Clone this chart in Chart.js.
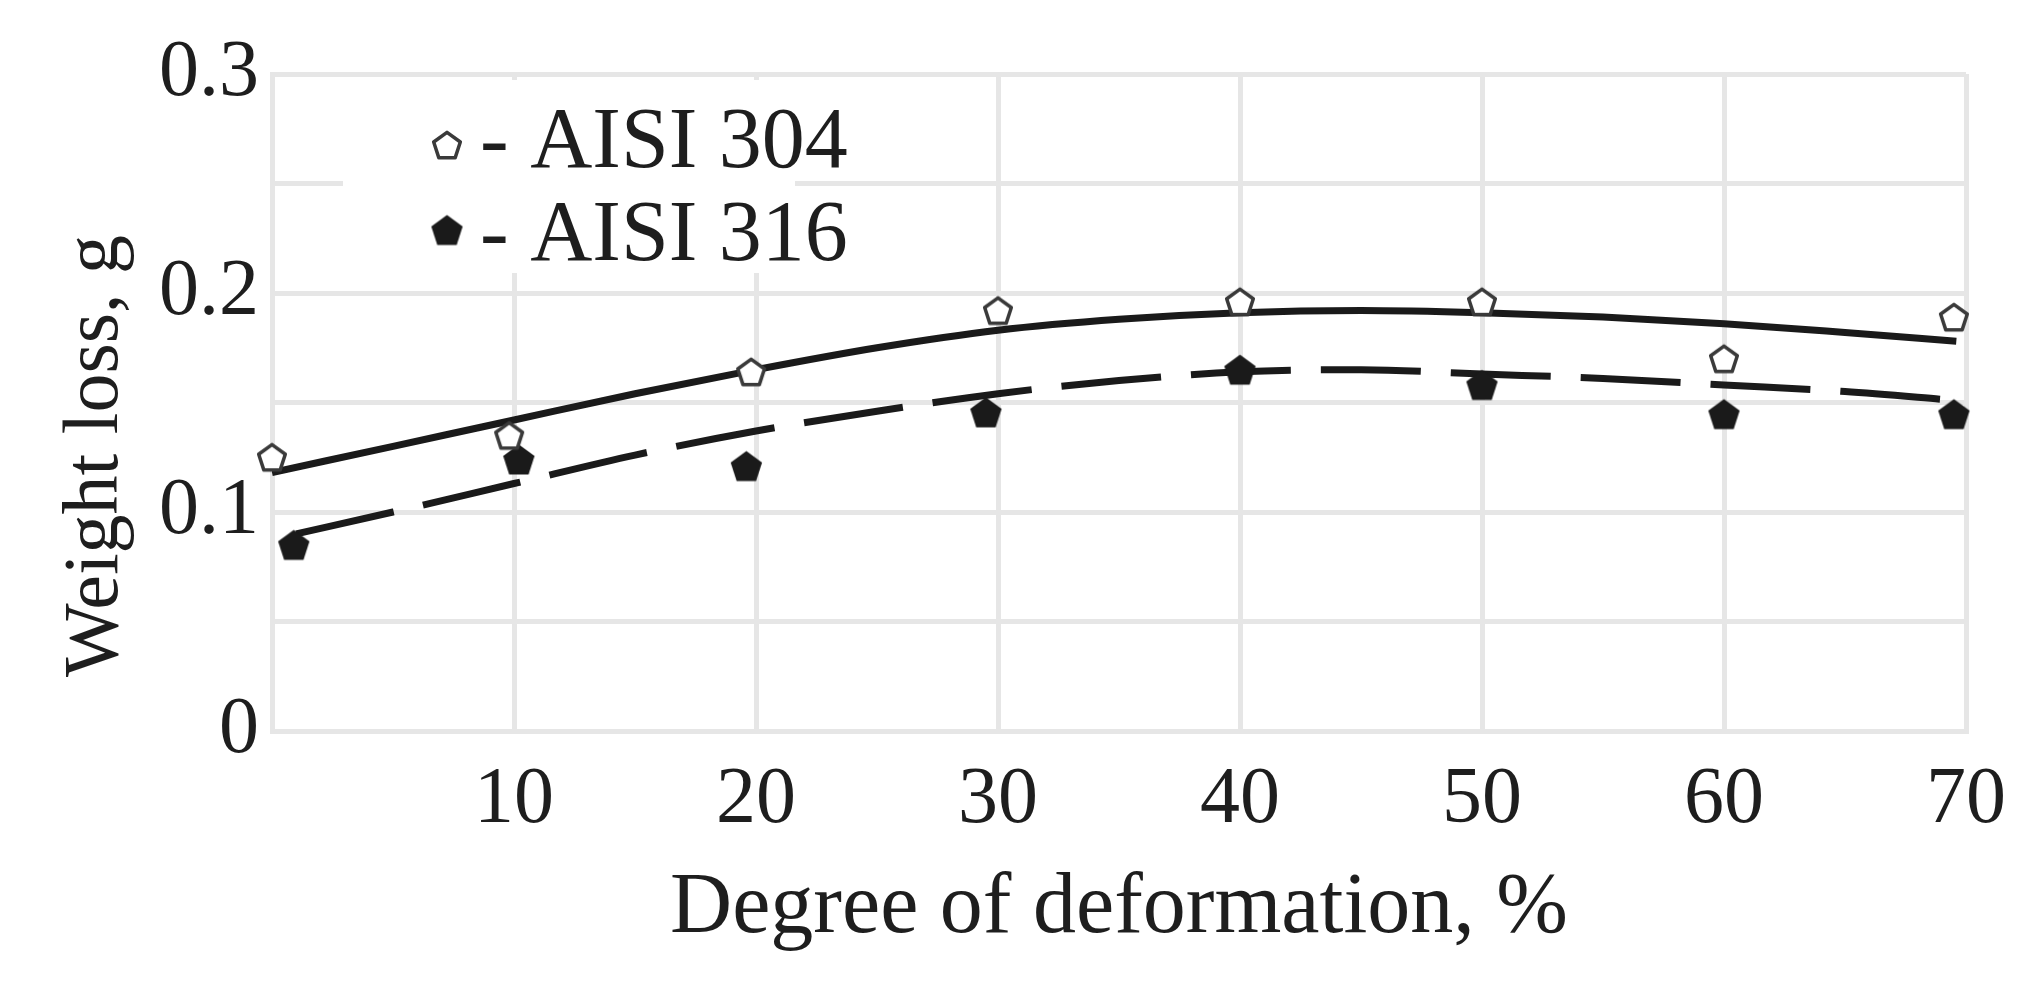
<!DOCTYPE html>
<html><head><meta charset="utf-8">
<script src="https://cdn.jsdelivr.net/npm/chart.js@4.4.1/dist/chart.umd.min.js"></script>
<style>html,body{margin:0;padding:0;background:#fff;}canvas{display:block;}</style>
</head><body>
<canvas id="c" width="2030" height="988"></canvas>
<script>
// ---- data ----
const xTickValues = [0, 10, 20, 30, 40, 50, 60, 70];
const yTickLabels = ['0', '0.1', '0.2', '0.3'];
const seriesNames = ['AISI 304', 'AISI 316'];
const xTitle = 'Degree of deformation, %';
const yTitle = 'Weight loss, g';

const aisi304X = [0, 9.8, 19.8, 30, 40, 50, 60, 69.5];
const aisi304Y = [0.125, 0.135, 0.164, 0.192, 0.196, 0.196, 0.170, 0.189];
const aisi316X = [0.9, 10.2, 19.6, 29.5, 40, 50, 60, 69.5];
const aisi316Y = [0.085, 0.124, 0.121, 0.1455, 0.165, 0.158, 0.1447, 0.1447];

const trend304X = [0, 5, 10, 15, 20, 25, 30, 35, 40, 45, 50, 55, 60, 65, 69.6];
const trend304Y = [0.118, 0.130, 0.142, 0.154, 0.165, 0.175, 0.183, 0.188, 0.191, 0.192, 0.191, 0.189, 0.186, 0.182, 0.178];
const trend316X = [1, 5, 10, 15, 20, 25, 30, 35, 40, 45, 50, 55, 60, 65, 69.5];
const trend316Y = [0.090, 0.100, 0.113, 0.126, 0.137, 0.146, 0.154, 0.160, 0.164, 0.165, 0.163, 0.161, 0.158, 0.155, 0.151];

// ---- styling helpers ----
const FONT = 'Liberation Serif';
const TEXT = '#1e1e1e';
const GRID = '#e6e6e6';

function pentagon(r, fill, stroke, lw) {
  const s = Math.ceil(2 * r + lw + 6);
  const c = document.createElement('canvas');
  c.width = s; c.height = s;
  const g = c.getContext('2d');
  g.translate(s / 2, s / 2 + 0.095 * r);
  g.beginPath();
  for (let i = 0; i < 5; i++) {
    const a = -Math.PI / 2 + i * 2 * Math.PI / 5;
    const px = r * Math.cos(a), py = r * Math.sin(a);
    if (i) g.lineTo(px, py); else g.moveTo(px, py);
  }
  g.closePath();
  g.lineJoin = 'round';
  g.fillStyle = fill; g.fill();
  if (lw) { g.strokeStyle = stroke; g.lineWidth = lw; g.stroke(); }
  return c;
}
const openPent = pentagon(14, '#ffffff', '#3a3a3a', 3.5);
const filledPent = pentagon(16.5, '#1a1a1a', '#1a1a1a', 0);

const pts = (xs, ys) => xs.map((x, i) => ({ x: x, y: ys[i] }));

const legendBox = {
  id: 'legendBox',
  beforeDatasetsDraw(chart) {
    const ctx = chart.ctx;
    ctx.save();
    ctx.fillStyle = '#ffffff';
    ctx.fillRect(343, 80, 452, 193);
    const rows = [[openPent, 145, 167], [filledPent, 230, 260]];
    ctx.font = '86px "' + FONT + '"';
    ctx.fillStyle = TEXT;
    ctx.textAlign = 'left';
    ctx.textBaseline = 'alphabetic';
    rows.forEach((r, i) => {
      const img = r[0];
      ctx.drawImage(img, 447 - img.width / 2, r[1] - img.height / 2);
      ctx.fillText('- ' + seriesNames[i], 480, r[2]);
    });
    ctx.restore();
  },
  afterDraw(chart) {
    const ctx = chart.ctx;
    ctx.save();
    ctx.translate(97, 456);
    ctx.rotate(-Math.PI / 2);
    ctx.font = '78px "' + FONT + '"';
    ctx.fillStyle = TEXT;
    ctx.textAlign = 'center';
    ctx.textBaseline = 'middle';
    ctx.fillText(yTitle, 0, 0);
    ctx.restore();
  }
};

new Chart(document.getElementById('c').getContext('2d'), {
  type: 'scatter',
  data: {
    datasets: [
      { label: seriesNames[0], data: pts(aisi304X, aisi304Y), pointStyle: openPent,
        pointRadius: 14, pointHoverRadius: 14, showLine: false, order: 0, clip: false },
      { label: seriesNames[1], data: pts(aisi316X, aisi316Y), pointStyle: filledPent,
        pointRadius: 16, pointHoverRadius: 16, showLine: false, order: 0, clip: false },
      { type: 'line', label: 'fit 304', data: pts(trend304X, trend304Y), borderColor: '#1a1a1a',
        borderWidth: 7, pointRadius: 0, cubicInterpolationMode: 'monotone', fill: false, order: 1 },
      { type: 'line', label: 'fit 316', data: pts(trend316X, trend316Y), borderColor: '#1a1a1a',
        borderWidth: 7, borderDash: [100, 30], pointRadius: 0, cubicInterpolationMode: 'monotone',
        fill: false, order: 1 }
    ]
  },
  options: {
    responsive: false,
    animation: false,
    devicePixelRatio: 1,
    layout: { padding: { left: 0, right: 64, top: 74, bottom: 0 } },
    plugins: { legend: { display: false }, tooltip: { enabled: false } },
    scales: {
      x: {
        type: 'linear', min: 0, max: 70,
        afterBuildTicks: s => { s.ticks = xTickValues.map(v => ({ value: v })); },
        ticks: { callback: v => (v === 0 ? '' : String(v)), font: { family: FONT, size: 80 },
                 color: TEXT, padding: 22, maxRotation: 0, autoSkip: false },
        grid: { color: GRID, lineWidth: 5, drawTicks: false },
        border: { color: GRID, width: 5 },
        title: { display: true, text: xTitle, color: TEXT,
                 font: { family: FONT, size: 86, lineHeight: 1 }, padding: { top: 0, bottom: 36 } },
        afterFit: s => { s.height = 257; }
      },
      y: {
        min: 0, max: 0.3,
        ticks: { stepSize: 0.05, autoSkip: false,
                 callback: v => { const k = Math.round(v * 20); return k % 2 === 0 ? yTickLabels[k / 2] : ''; },
                 font: { family: FONT, size: 80 }, color: TEXT, padding: 13 },
        grid: { color: GRID, lineWidth: 5, drawTicks: false },
        border: { color: GRID, width: 5 },
        afterFit: s => { s.width = 272; }
      }
    }
  },
  plugins: [legendBox]
});
</script>
</body></html>
